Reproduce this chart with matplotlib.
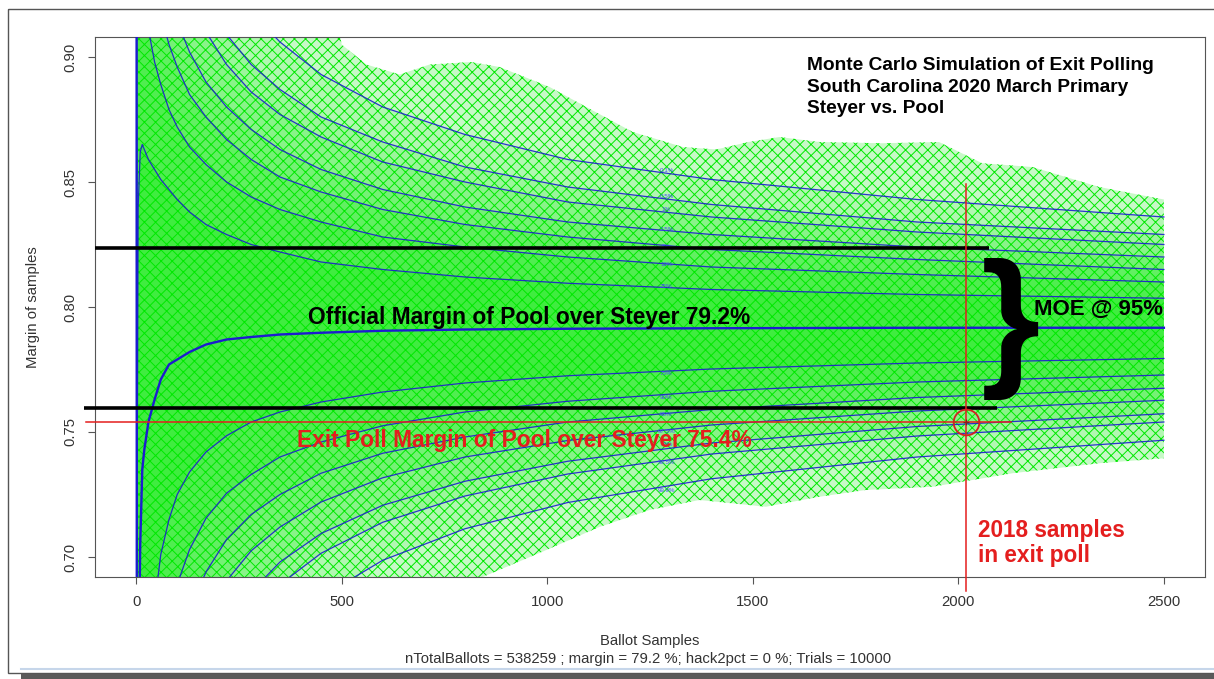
import matplotlib
matplotlib.use('Agg')
import matplotlib.pyplot as plt
import matplotlib.transforms as mtransforms
from matplotlib.patches import Rectangle
from matplotlib.lines import Line2D
import numpy as np

# ---------------- data ----------------
# ballot-sample grid for the percentile curves
q_n = [1, 2, 5, 10, 15, 20, 30, 45, 60, 80, 100, 130, 170, 220, 280, 350, 450,
       600, 800, 1050, 1400, 1900, 2500]
# upper percentile curves
q001 = [1.2, 1.2, 1.2, 1.152, 1.130, 1.112, 1.083, 1.052, 1.029, 1.005, 0.988, 0.969, 0.950,
        0.933, 0.918, 0.906, 0.893, 0.880, 0.869, 0.859, 0.851, 0.843, 0.836]
q005 = [1.2, 1.2, 1.2, 1.091, 1.073, 1.058, 1.034, 1.008, 0.989, 0.969, 0.955, 0.939, 0.923,
        0.909, 0.897, 0.887, 0.876, 0.866, 0.856, 0.848, 0.841, 0.834, 0.829]
q01 = [1.2, 1.2, 1.2, 1.061, 1.045, 1.031, 1.009, 0.986, 0.969, 0.951, 0.938, 0.924, 0.910,
       0.897, 0.886, 0.877, 0.868, 0.858, 0.850, 0.842, 0.836, 0.830, 0.825]
q025 = [1.2, 1.2, 1.2, 1.016, 1.003, 0.992, 0.973, 0.954, 0.940, 0.925, 0.914, 0.902, 0.890,
        0.880, 0.871, 0.863, 0.855, 0.847, 0.840, 0.834, 0.829, 0.824, 0.820]
q05 = [1.2, 1.2, 1.2, 0.982, 0.971, 0.961, 0.946, 0.929, 0.917, 0.905, 0.896, 0.885, 0.876,
       0.867, 0.859, 0.852, 0.846, 0.839, 0.833, 0.828, 0.823, 0.819, 0.815]
q10 = [1.2, 1.2, 1.2, 0.939, 0.930, 0.923, 0.911, 0.898, 0.889, 0.879, 0.872, 0.864, 0.857,
       0.850, 0.844, 0.839, 0.834, 0.828, 0.824, 0.820, 0.816, 0.813, 0.810]
q25 = [1.0, 0.70, 0.84, 0.862, 0.865, 0.863, 0.859, 0.855, 0.851, 0.847, 0.843, 0.838, 0.833,
       0.829, 0.825, 0.822, 0.818, 0.815, 0.812, 0.8095, 0.807, 0.805, 0.8035]
# central (median) curve
q50 = [1.0, 0.5, 0.64, 0.705, 0.735, 0.743, 0.754, 0.763, 0.771, 0.777, 0.779, 0.782, 0.785,
       0.787, 0.788, 0.789, 0.7897, 0.7905, 0.791, 0.7913, 0.7915, 0.7917, 0.7917]
# lower percentile curves
q75 = [0.3, 0.3, 0.3, 0.3, 0.3, 0.555, 0.640, 0.681, 0.701, 0.715, 0.725, 0.734, 0.742,
       0.7485, 0.754, 0.758, 0.762, 0.766, 0.7696, 0.7725, 0.7752, 0.7776, 0.7794]
q90 = [0.3, 0.3, 0.3, 0.3, 0.3, 0.430, 0.560, 0.623, 0.652, 0.675, 0.689, 0.703, 0.7155,
       0.7255, 0.733, 0.740, 0.746, 0.7525, 0.758, 0.7623, 0.7663, 0.770, 0.7728]
q95 = [0.3, 0.3, 0.3, 0.3, 0.3, 0.329, 0.495, 0.576, 0.6135, 0.642, 0.661, 0.679, 0.694,
       0.707, 0.717, 0.725, 0.7335, 0.7415, 0.748, 0.754, 0.759, 0.7638, 0.7675]
q975 = [0.3, 0.3, 0.3, 0.3, 0.3, 0.3, 0.438, 0.534, 0.579, 0.613, 0.635, 0.657, 0.675,
        0.6905, 0.7025, 0.712, 0.722, 0.7317, 0.740, 0.7466, 0.7528, 0.7584, 0.7627]
q99 = [0.3, 0.3, 0.3, 0.3, 0.3, 0.3, 0.373, 0.4865, 0.540, 0.581, 0.607, 0.632, 0.654,
       0.672, 0.686, 0.698, 0.7094, 0.7207, 0.7303, 0.7383, 0.7456, 0.7522, 0.7573]
q995 = [0.3, 0.3, 0.3, 0.3, 0.3, 0.3, 0.333, 0.457, 0.516, 0.5606, 0.589, 0.617, 0.641,
        0.6605, 0.676, 0.689, 0.7015, 0.7139, 0.7244, 0.7332, 0.7412, 0.7484, 0.754]
q999 = [0.3, 0.3, 0.3, 0.3, 0.3, 0.3, 0.3, 0.392, 0.462, 0.5157, 0.5496, 0.583, 0.611,
        0.635, 0.6535, 0.669, 0.684, 0.6987, 0.7113, 0.7218, 0.7313, 0.740, 0.7467]

# labels printed on the percentile curves (at about 1290 samples)
pct_labels = ['0.1%', '0.5%', '1%', '2.5%', '5%', '10%', '25%',
              '75%', '90%', '95%', '97.5%', '99%', '99.5%', '99.9%']
pct_label_y = [0.8545, 0.8441, 0.8391, 0.8311, 0.8244, 0.8171, 0.8081,
               0.7735, 0.7639, 0.7568, 0.7501, 0.7448, 0.7377, 0.7268]
pct_label_x = 1290

# outer envelope of the simulated trials (green)
env_top_n = [1, 450, 500, 560, 641, 714, 815, 884, 1006, 1095, 1208, 1330, 1411, 1490,
             1565, 1662, 1815, 1953, 2058, 2180, 2343, 2500]
env_top_v = [0.95, 0.95, 0.905, 0.897, 0.893, 0.897, 0.898, 0.896, 0.888, 0.880, 0.870,
             0.864, 0.863, 0.866, 0.868, 0.866, 0.8655, 0.866, 0.8575, 0.856, 0.848, 0.843]
env_bot_n = [1, 600, 700, 843, 981, 1127, 1249, 1370, 1532, 1662, 1775, 1937, 2132, 2343, 2500]
env_bot_v = [0.65, 0.65, 0.685, 0.692, 0.7016, 0.712, 0.7188, 0.7228, 0.7201, 0.7241,
             0.7268, 0.7281, 0.7335, 0.7375, 0.7395]

# annotations
moe_upper = 0.8235
moe_lower = 0.7597
exit_poll_margin = 0.7541
exit_samples = 2018

x_ticks = [0, 500, 1000, 1500, 2000, 2500]
y_ticks = [0.70, 0.75, 0.80, 0.85, 0.90]
y_tick_labels = ['0.70', '0.75', '0.80', '0.85', '0.90']

# ---------------- figure ----------------
plt.rcParams['font.family'] = ['Liberation Sans', 'DejaVu Sans']
plt.rcParams['hatch.linewidth'] = 0.7
W, H = 1214, 679
fig = plt.figure(figsize=(W / 100, H / 100), dpi=100)
fig.patch.set_facecolor('white')
pxT = mtransforms.Affine2D().scale(1 / W, -1 / H).translate(0, 1) + fig.transFigure

ax = fig.add_axes([95 / W, 1 - 577 / H, (1205 - 95) / W, (577 - 37) / H])
ax.set_xlim(-100, 2600)
ax.set_ylim(0.692, 0.908)

GREEN = '#00e800'
BLUE = '#1c1cd0'

# green cloud of trials
env_x = np.concatenate([env_top_n, env_bot_n[::-1]])
env_y = np.concatenate([env_top_v, env_bot_v[::-1]])
ax.fill(env_x, env_y, color=GREEN, alpha=0.22, lw=0, zorder=1)
pairs = [(q001, q999, 0.10), (q005, q995, 0.12), (q01, q99, 0.12), (q025, q975, 0.14),
         (q05, q95, 0.16), (q10, q90, 0.18), (q25, q75, 0.20)]
for up, lo, a in pairs:
    ax.fill_between(q_n, up, lo, color=GREEN, alpha=a, lw=0, zorder=1)
ax.fill(env_x, env_y, facecolor='none', edgecolor=GREEN, hatch='xxx', lw=0, zorder=2)

# percentile curves
for q in [q001, q005, q01, q025, q05, q10, q25, q75, q90, q95, q975, q99, q995, q999]:
    ax.plot(q_n, q, color=BLUE, lw=0.9, alpha=0.9, zorder=3)
ax.plot(q_n, q50, color=BLUE, lw=1.7, zorder=3)

for lab, yy in zip(pct_labels, pct_label_y):
    ax.text(pct_label_x, yy, lab, fontsize=4.5, color='#4a4aff', ha='center',
            va='center', zorder=4)

# black MOE lines, red exit-poll lines
ax.plot([-100, 2075], [moe_upper, moe_upper], color='black', lw=2.6,
        solid_capstyle='butt', clip_on=False, zorder=5)
ax.plot([-127, 2094], [moe_lower, moe_lower], color='black', lw=2.6,
        solid_capstyle='butt', clip_on=False, zorder=5)
ax.plot([-122, 2128], [exit_poll_margin, exit_poll_margin], color='#e41e1e', lw=1.1,
        clip_on=False, zorder=5)
ax.plot([exit_samples, exit_samples], [0.8492, 0.6865], color='#e41e1e', lw=1.1,
        clip_on=False, zorder=5)
ax.plot([exit_samples], [exit_poll_margin], marker='o', ms=18.5, mfc='none',
        mec='#d42020', mew=1.3, zorder=6)
ax.plot([exit_samples], [exit_poll_margin], marker='+', ms=4, color='#802020',
        mew=0.8, zorder=6)

# axes styling
for s in ax.spines.values():
    s.set_color('#555555')
    s.set_linewidth(0.8)
ax.set_xticks(x_ticks)
ax.set_yticks(y_ticks)
ax.set_yticklabels(y_tick_labels, rotation=90, va='center')
ax.tick_params(direction='out', length=5, width=0.8, color='#555555',
               labelsize=10.7, labelcolor='#333333', pad=8)

# texts (pixel positions)
def ftext(x, y, s, **kw):
    fig.text(x, y, s, transform=pxT, **kw)

ftext(807, 70, 'Monte Carlo Simulation of Exit Polling', fontsize=13.8, fontweight='bold', va='baseline')
ftext(807, 91.7, 'South Carolina 2020 March Primary', fontsize=13.8, fontweight='bold', va='baseline')
ftext(807, 113, 'Steyer vs. Pool', fontsize=13.8, fontweight='bold', va='baseline')

ftext(308, 324, 'Official Margin of Pool over Steyer 79.2%', fontsize=16.4,
      fontweight='bold', va='baseline', color='black')
ftext(297, 446.5, 'Exit Poll Margin of Pool over Steyer 75.4%', fontsize=16.4,
      fontweight='bold', va='baseline', color='#e41e1e')
ftext(1034, 315, 'MOE @ 95%', fontsize=16.0, fontweight='bold', va='baseline')
ftext(978, 536.7, '2018 samples', fontsize=16.3, fontweight='bold', va='baseline', color='#e41e1e')
ftext(978, 561.7, 'in exit poll', fontsize=16.3, fontweight='bold', va='baseline', color='#e41e1e')

ftext(1010, 329, '}', fontsize=110, fontweight='bold', ha='center', va='center')

ftext(32.5, 307, 'Margin of samples', rotation=90, ha='center', va='center',
      fontsize=10.7, color='#333333')
ftext(650, 641, 'Ballot Samples', ha='center', va='center', fontsize=10.7, color='#333333')
ftext(648, 658.5, 'nTotalBallots = 538259 ; margin = 79.2 %; hack2pct = 0 %; Trials = 10000',
      ha='center', va='center', fontsize=10.7, color='#333333')

# screenshot frame
fig.add_artist(Rectangle((8, 9), 1230, 664, transform=pxT, fill=False,
                         ec='#555555', lw=1.0))
fig.add_artist(Rectangle((21, 673.5), 1200, 7, transform=pxT, fc='#5a5a5a', ec='none'))
fig.add_artist(Line2D([21, 1214], [669, 669], transform=pxT, color='#c6d6ea', lw=1.5))

fig.savefig('out.png', dpi=100)
